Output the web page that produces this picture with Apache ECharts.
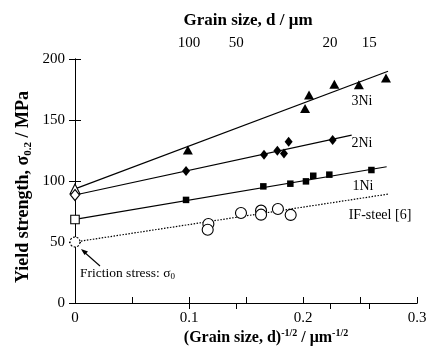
<!DOCTYPE html>
<html><head><meta charset="utf-8">
<script src="https://cdn.jsdelivr.net/npm/echarts@6/dist/echarts.min.js"></script>
<style>html,body{margin:0;padding:0;background:#fff}#c{width:430px;height:350px}</style>
</head><body><div id="c"></div>
<script>
// ---- data ----
const x3Ni = [0.099, 0.2018, 0.2053, 0.2275, 0.249, 0.2728];
const y3Ni = [125.5, 159.4, 170.4, 179.4, 178.8, 184.5];
const x2Ni = [0.0974, 0.1658, 0.1775, 0.1833, 0.1874, 0.226];
const y2Ni = [108.2, 121.5, 124.8, 122.6, 132.2, 133.6];
const x1Ni = [0.0974, 0.1652, 0.1889, 0.2026, 0.209, 0.2231, 0.26];
const y1Ni = [84.5, 95.6, 97.8, 99.7, 104.3, 105.2, 109];
const xIF = [0.117, 0.1164, 0.1456, 0.1632, 0.1632, 0.178, 0.1892];
const yIF = [64.8, 60.1, 73.8, 75.7, 72.4, 77.1, 72.2];
// intercepts (friction stress) at x = 0
const intercept3Ni = 93.5, intercept2Ni = 88.5, intercept1Ni = 68.5, interceptIF = 50;
// fitted lines (endpoints)
const fit3X = [0, 0.2746], fit3Y = [93.5, 190];
const fit2X = [0, 0.2427], fit2Y = [88.5, 137.6];
const fit1X = [0, 0.2734], fit1Y = [68.5, 111.7];
const fitIFX = [0, 0.2757], fitIFY = [50, 89.4];
// top axis: grain size d (µm)
const topTickD = [100, 50, 20, 15];
const seriesNames = ['3Ni', '2Ni', '1Ni', 'IF-steel [6]'];

const zip = (xs, ys) => xs.map((x, i) => [x, ys[i]]);
const FONT = 'Liberation Serif';
const topVals = topTickD.map(d => 1 / Math.sqrt(d));

const chart = echarts.init(document.getElementById('c'), null, {renderer: 'canvas'});
function fitSeries(xs, ys, dotted) {
  return {type: 'line', data: zip(xs, ys), symbol: 'none', silent: true, z: 1,
    lineStyle: {color: '#000', width: 1.2, type: dotted ? [1.5, 1.5] : 'solid'}};
}
function ptSeries(xs, ys, symbol, size, filled, dashed) {
  return {type: 'scatter', data: zip(xs, ys), symbol: symbol, symbolSize: size, z: 3,
    itemStyle: {color: filled ? '#000' : '#fff', borderColor: '#000', borderWidth: filled ? 0 : 1.1,
      borderType: dashed ? [2, 1.5] : 'solid', opacity: 1}};
}
const axisLine = {show: true, lineStyle: {color: '#000', width: 1}};
const option = {
  animation: false,
  backgroundColor: '#fff',
  grid: {left: 75, right: 13, top: 59, bottom: 47},
  xAxis: [{
    type: 'value', min: 0, max: 0.3, interval: 0.05, position: 'bottom',
    axisLine: axisLine, splitLine: {show: false},
    axisTick: {inside: true, length: 6, lineStyle: {color: '#000'}},
    axisLabel: {color: '#000', fontFamily: FONT, fontSize: 15, margin: 8,
      formatter: v => (Math.abs(v * 10 - Math.round(v * 10)) < 1e-6 ? (v === 0 ? '0' : String(Math.round(v * 10) / 10)) : '')}
  }, {
    type: 'value', min: 0, max: 0.3, position: 'top',
    axisLine: axisLine, splitLine: {show: false},
    axisTick: {inside: true, length: 6, customValues: topVals, lineStyle: {color: '#000'}},
    axisLabel: {color: '#000', fontFamily: FONT, fontSize: 15, margin: 8, customValues: topVals,
      formatter: v => String(Math.round(1 / (v * v)))}
  }],
  yAxis: [{
    type: 'value', min: 0, max: 200, interval: 50, position: 'left',
    axisLine: axisLine, splitLine: {show: false},
    axisTick: {inside: true, length: 6, lineStyle: {color: '#000'}},
    axisLabel: {color: '#000', fontFamily: FONT, fontSize: 15, margin: 10}
  }, {
    type: 'value', min: 0, max: 200, interval: 50, position: 'right',
    axisLine: axisLine, splitLine: {show: false},
    axisTick: {inside: true, length: 6, lineStyle: {color: '#000'}},
    axisLabel: {show: false}
  }],
  series: [
    fitSeries(fit3X, fit3Y), fitSeries(fit2X, fit2Y), fitSeries(fit1X, fit1Y), fitSeries(fitIFX, fitIFY, true),
    ptSeries(x3Ni, y3Ni, 'triangle', [10, 9], true),
    ptSeries(x2Ni, y2Ni, 'diamond', [8, 10], true),
    ptSeries(x1Ni, y1Ni, 'rect', 6.5, true),
    ptSeries(xIF, yIF, 'circle', 11, false),
    ptSeries([0], [intercept3Ni], 'triangle', [10, 10], false),
    ptSeries([0], [intercept2Ni], 'diamond', [9, 11], false),
    ptSeries([0], [intercept1Ni], 'rect', 8.5, false),
    ptSeries([0], [interceptIF], 'circle', 10, false, true)
  ],
  graphic: [
    {type: 'text', x: 23, y: 187, rotation: Math.PI / 2, style: {
      text: '{b|Yield strength, σ}{s|0.2}{b| / MPa}', align: 'center', verticalAlign: 'middle',
      rich: {b: {fontFamily: FONT, fontWeight: 'bold', fontSize: 18, lineHeight: 21, fill: '#000'},
             s: {fontFamily: FONT, fontWeight: 'bold', fontSize: 11, lineHeight: 11, verticalAlign: 'bottom', fill: '#000'}}}},
    {type: 'text', x: 266, y: 338, style: {
      text: '{b|(Grain size, d)}{p|-1/2}{b| / μm}{p|-1/2}', align: 'center', verticalAlign: 'middle',
      rich: {b: {fontFamily: FONT, fontWeight: 'bold', fontSize: 16, lineHeight: 19, fill: '#000'},
             p: {fontFamily: FONT, fontWeight: 'bold', fontSize: 10, lineHeight: 10, verticalAlign: 'top', fill: '#000'}}}},
    {type: 'text', x: 248, y: 21, style: {text: 'Grain size, d / μm', align: 'center', verticalAlign: 'middle',
      font: 'bold 17px "Liberation Serif"', fill: '#000'}},
    {type: 'text', x: 362, y: 101.5, style: {text: seriesNames[0], align: 'center', verticalAlign: 'middle', font: '14px "Liberation Serif"', fill: '#000'}},
    {type: 'text', x: 362, y: 143.5, style: {text: seriesNames[1], align: 'center', verticalAlign: 'middle', font: '14px "Liberation Serif"', fill: '#000'}},
    {type: 'text', x: 363, y: 186, style: {text: seriesNames[2], align: 'center', verticalAlign: 'middle', font: '14px "Liberation Serif"', fill: '#000'}},
    {type: 'text', x: 380, y: 215, style: {text: seriesNames[3], align: 'center', verticalAlign: 'middle', font: '14px "Liberation Serif"', fill: '#000'}},
    {type: 'text', x: 80, y: 273, style: {
      text: '{n|Friction stress: σ}{s|0}', align: 'left', verticalAlign: 'middle',
      rich: {n: {fontFamily: FONT, fontSize: 13.5, lineHeight: 16, fill: '#000'},
             s: {fontFamily: FONT, fontSize: 9, lineHeight: 9, verticalAlign: 'bottom', fill: '#000'}}}},
    {type: 'line', shape: {x1: 100, y1: 266, x2: 83, y2: 251}, style: {stroke: '#000', lineWidth: 1.1}},
    {type: 'polygon', shape: {points: [[81, 249], [88, 251.5], [84.5, 255]]}, style: {fill: '#000'}}
  ]
};
chart.setOption(option);
</script></body></html>
